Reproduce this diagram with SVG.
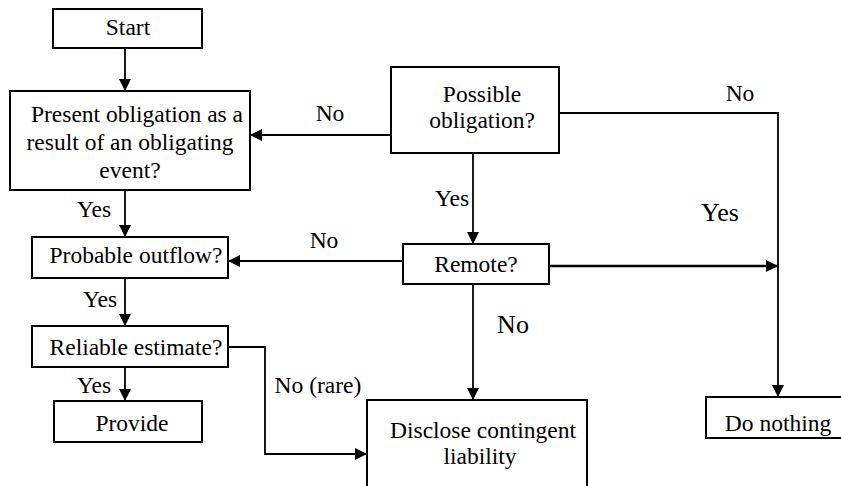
<svg xmlns="http://www.w3.org/2000/svg" width="841" height="486" viewBox="0 0 841 486">
<style>
.box{fill:#fff;stroke:#000;stroke-width:2}
.t{font-size:23.5px;fill:#000;text-anchor:middle}
.big{font-size:26px}
.ln{fill:none;stroke:#000;stroke-width:1.8}
</style>
<defs>
<marker id="ah" viewBox="0 0 12 12" refX="12" refY="6" markerWidth="12" markerHeight="12" markerUnits="userSpaceOnUse" orient="auto">
<path d="M0,0 L12,6 L0,12 Z" fill="#000"/>
</marker>
</defs>
<g id="connectors">
<line class="ln" x1="125" y1="48" x2="125" y2="91" marker-end="url(#ah)"/>
<line class="ln" x1="391" y1="135" x2="250" y2="135" marker-end="url(#ah)"/>
<line class="ln" x1="473" y1="153" x2="473" y2="244" marker-end="url(#ah)"/>
<line class="ln" x1="403" y1="261" x2="228" y2="261" marker-end="url(#ah)"/>
<line class="ln" x1="125" y1="190" x2="125" y2="237" marker-end="url(#ah)"/>
<line class="ln" x1="125" y1="278" x2="125" y2="326" marker-end="url(#ah)"/>
<line class="ln" x1="125" y1="367" x2="125" y2="401" marker-end="url(#ah)"/>
<polyline class="ln" points="228,347 265,347 265,454 367,454" marker-end="url(#ah)"/>
<line class="ln" x1="473" y1="284" x2="473" y2="400" marker-end="url(#ah)"/>
<line x1="549" y1="266" x2="778" y2="266" stroke="#000" stroke-width="2.6" marker-end="url(#ah)"/>
<polyline class="ln" points="559,113 778,113 778,397" marker-end="url(#ah)"/>
<text class="t" x="330" y="121">No</text>
<text class="t" x="452" y="206">Yes</text>
<text class="t" x="324" y="248">No</text>
<text class="t" x="94" y="217">Yes</text>
<text class="t" x="100" y="307">Yes</text>
<text class="t" x="94" y="393">Yes</text>
<text class="t" x="318" y="393">No (rare)</text>
<text class="t big" x="513" y="333">No</text>
<text class="t" x="740" y="101">No</text>
<text class="t big" x="720" y="221">Yes</text>
</g>
<g id="start">
<rect class="box" x="53" y="9" width="149" height="39"/>
<text class="t" x="128" y="35">Start</text>
</g>
<g id="present">
<rect class="box" x="10" y="91" width="240" height="99"/>
<text class="t" x="137" y="122">Present obligation as a</text>
<text class="t" x="130" y="150">result of an obligating</text>
<text class="t" x="130" y="178">event?</text>
</g>
<g id="possible">
<rect class="box" x="391" y="67" width="168" height="86"/>
<text class="t" x="482" y="102">Possible</text>
<text class="t" x="482" y="128">obligation?</text>
</g>
<g id="remote">
<rect class="box" x="403" y="244" width="146" height="40"/>
<text class="t" x="476" y="272">Remote?</text>
</g>
<g id="probable">
<rect class="box" x="32" y="237" width="196" height="41"/>
<text class="t" x="136" y="263">Probable outflow?</text>
</g>
<g id="reliable">
<rect class="box" x="32" y="326" width="196" height="41"/>
<text class="t" x="136" y="355">Reliable estimate?</text>
</g>
<g id="provide">
<rect class="box" x="54" y="401" width="148" height="41"/>
<text class="t" x="132" y="431">Provide</text>
</g>
<g id="disclose">
<rect class="box" x="367" y="400" width="220" height="100"/>
<text class="t" x="483" y="438">Disclose contingent</text>
<text class="t" x="480" y="464">liability</text>
</g>
<g id="donothing">
<rect class="box" x="706" y="397" width="140" height="41"/>
<text class="t" x="778" y="431">Do nothing</text>
</g>
</svg>
